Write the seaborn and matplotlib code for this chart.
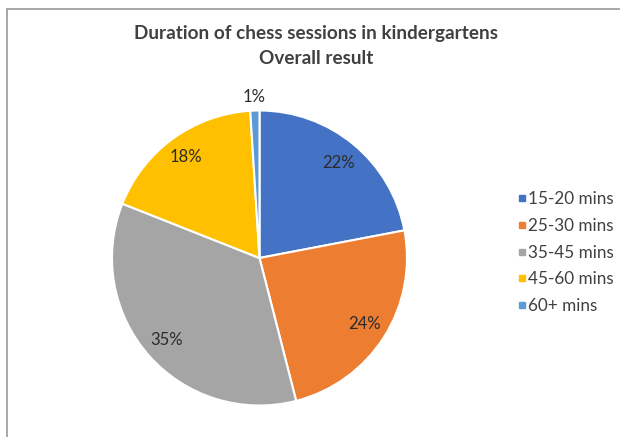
import matplotlib
matplotlib.use("Agg")
import matplotlib.pyplot as plt
from matplotlib.lines import Line2D
import numpy as np
import seaborn as sns

categories = ["15-20 mins", "25-30 mins", "35-45 mins", "45-60 mins", "60+ mins"]
shares = [22, 24, 35, 18, 1]
title_lines = ["Duration of chess sessions in kindergartens", "Overall result"]

sns.set_theme(style="white")
plt.rcParams["font.family"] = ["Lato", "DejaVu Sans"]

colors = sns.color_palette(["#4472C4", "#ED7D31", "#A5A5A5", "#FFC000", "#5B9BD5"])
label_radius = [0.84, 0.84, 0.84, 0.85, 1.09]
text_color = "#404040"

fig = plt.figure(figsize=(6.2, 4.37), dpi=100)
W, H = 620, 437

# pie axes: square box around the circle
cx, cy, r = 259.5, 258, 147.5
ax = fig.add_axes([(cx - r) / W, (H - cy - r) / H, 2 * r / W, 2 * r / H])
wedges, _ = ax.pie(
    shares,
    colors=colors,
    startangle=90,
    counterclock=False,
    wedgeprops=dict(edgecolor="white", linewidth=1.5),
    radius=1.0,
)
ax.set_xlim(-1, 1)
ax.set_ylim(-1, 1)
ax.set_aspect("equal")
ax.axis("off")

for w, val, rf in zip(wedges, shares, label_radius):
    mid = np.deg2rad((w.theta1 + w.theta2) / 2)
    ax.text(rf * np.cos(mid), rf * np.sin(mid), f"{val}%",
            ha="center", va="center", fontsize=12, color="#2b2b2b")

fig.text(316 / W, 1 - 33 / H, title_lines[0], ha="center", va="center",
         fontsize=13.6, fontweight="bold", color=text_color)
fig.text(316 / W, 1 - 58 / H, title_lines[1], ha="center", va="center",
         fontsize=13.6, fontweight="bold", color=text_color)

handles = [Line2D([0], [0], marker="s", linestyle="none", markersize=4.6,
                  markerfacecolor=c, markeredgecolor=c) for c in colors]
fig.legend(handles, categories, loc="center left",
           bbox_to_anchor=(516.5 / W, 1 - 252.5 / H), frameon=False,
           fontsize=12.3, labelcolor=text_color, handletextpad=0.1,
           labelspacing=0.64, handlelength=0.6, borderpad=0,
           borderaxespad=0)

# chart frame edges
fig.add_artist(Line2D([7 / W, 1], [1 - 9 / H, 1 - 9 / H], transform=fig.transFigure,
                      color="#9a9a9a", linewidth=1.2))
fig.add_artist(Line2D([7 / W, 7 / W], [0, 1 - 9 / H], transform=fig.transFigure,
                      color="#9a9a9a", linewidth=1.2))

fig.savefig("out.png", dpi=100)
